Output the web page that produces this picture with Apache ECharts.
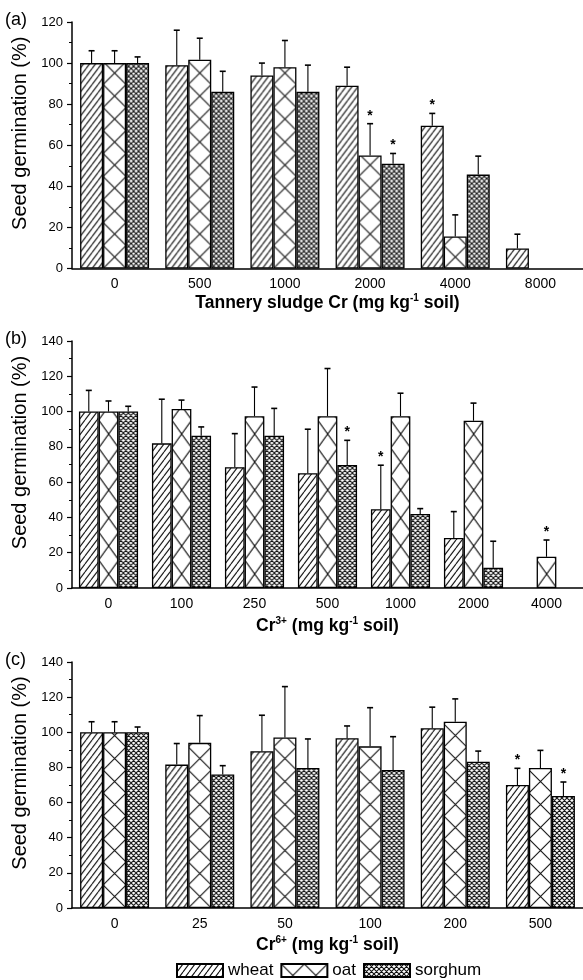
<!DOCTYPE html>
<html>
<head>
<meta charset="utf-8">
<script src="https://cdn.jsdelivr.net/npm/echarts@6/dist/echarts.min.js"></script>
<style>html,body{margin:0;padding:0;background:#fff}#c{width:583px;height:980px}</style>
</head>
<body>
<div id="c"></div>
<script>
// ---------- DATA ----------
const catsA = ['0', '500', '1000', '2000', '4000', '8000'];
const wheatA = [100, 99, 94, 89, 69.5, 9.7];
const oatA = [100, 101.6, 98, 55, 15.6, null];
const sorghumA = [100, 86, 86, 51, 45.7, null];
const wheatErrA = [6, 17, 6, 9, 6, 7];
const oatErrA = [6, 10.5, 13, 15.5, 10.5, null];
const sorghumErrA = [3, 10, 13, 5, 9, null];
const starsA = [[3, 1], [3, 2], [4, 0]]; // [category index, species index]

const catsB = ['0', '100', '250', '500', '1000', '2000', '4000'];
const wheatB = [100, 82, 68.5, 65, 44.6, 28.3, null];
const oatB = [100, 101.5, 97.4, 97.4, 97.4, 94.8, 17.7];
const sorghumB = [100, 86.3, 86.3, 69.7, 42, 11.5, null];
const wheatErrB = [12, 25, 19, 25, 25, 15, null];
const oatErrB = [6, 5, 16.5, 27, 13, 10, 9.5];
const sorghumErrB = [3, 5, 15.5, 14, 3, 15, null];
const starsB = [[3, 2], [4, 0], [6, 1]];

const catsC = ['0', '25', '50', '100', '200', '500'];
const wheatC = [100, 81.6, 89.2, 96.6, 102.3, 70];
const oatC = [100, 94, 97, 92, 106, 79.7];
const sorghumC = [100, 76, 79.7, 78.5, 83.3, 63.7];
const wheatErrC = [6, 12, 20.5, 7, 12, 9.5];
const oatErrC = [6, 15.5, 29, 22, 13, 10];
const sorghumErrC = [3, 5, 16.5, 19, 6, 8];
const starsC = [[5, 0], [5, 2]];

const speciesNames = ['wheat', 'oat', 'sorghum'];
const yMaxes = [120, 140, 140];
const panelLabels = ['(a)', '(b)', '(c)'];

// ---------- STYLE ----------
const FONT = '"Liberation Sans", Arial, sans-serif';
const GAP = 0.19;

function makeTile(w, h, kind) {
  const c = document.createElement('canvas');
  c.width = w; c.height = h;
  const ctx = c.getContext('2d');
  ctx.fillStyle = '#fff';
  ctx.fillRect(0, 0, w, h);
  ctx.strokeStyle = '#111';
  ctx.lineWidth = 1.1;
  ctx.beginPath();
  for (let k = -1; k <= 1; k++) {
    ctx.moveTo(k * w, h); ctx.lineTo(k * w + w, 0);
    if (kind === 'x') { ctx.moveTo(k * w, 0); ctx.lineTo(k * w + w, h); }
  }
  ctx.stroke();
  return c;
}
const tiles = [
  [makeTile(6, 8, '/'), makeTile(23, 23, 'x'), makeTile(5, 5, 'x')],
  [makeTile(6, 8, '/'), makeTile(20, 28, 'x'), makeTile(5, 5, 'x')],
  [makeTile(6, 8, '/'), makeTile(23, 23, 'x'), makeTile(5, 5, 'x')]
];
function pat(p, s, x, y) {
  return { image: tiles[p][s], repeat: 'repeat', x: x || 0, y: y || 0 };
}

const panels = [
  { cats: catsA, vals: [wheatA, oatA, sorghumA], errs: [wheatErrA, oatErrA, sorghumErrA], stars: starsA,
    title: '{t|Tannery sludge Cr (mg kg}{s|-1}{t| soil)}', top: 22, height: 246.5, gap: 25 },
  { cats: catsB, vals: [wheatB, oatB, sorghumB], errs: [wheatErrB, oatErrB, sorghumErrB], stars: starsB,
    title: '{t|Cr}{s|3+}{t| (mg kg}{s|-1}{t| soil)}', top: 341, height: 247, gap: 28 },
  { cats: catsC, vals: [wheatC, oatC, sorghumC], errs: [wheatErrC, oatErrC, sorghumErrC], stars: starsC,
    title: '{t|Cr}{s|6+}{t| (mg kg}{s|-1}{t| soil)}', top: 662, height: 246, gap: 27 }
];

const grids = [], xAxes = [], yAxes = [], series = [], graphics = [];
panels.forEach((P, p) => {
  grids.push({ left: 72, right: 0, top: P.top, height: P.height, containLabel: false });
  xAxes.push({
    type: 'category', gridIndex: p, data: P.cats, position: 'bottom',
    axisLine: { lineStyle: { color: '#000', width: 1.5 } },
    axisTick: { alignWithLabel: true, length: 4, lineStyle: { color: '#000', width: 1.2 } },
    axisLabel: { color: '#000', fontSize: 14, fontFamily: FONT, margin: 9 },
    name: P.title, nameLocation: 'middle', nameGap: P.gap,
    nameTextStyle: {
      rich: {
        t: { fontSize: 17.5, fontWeight: 'bold', fontFamily: FONT, color: '#000', lineHeight: 20 },
        s: { fontSize: 10, fontWeight: 'bold', fontFamily: FONT, color: '#000', lineHeight: 10, verticalAlign: 'top' }
      }
    }
  });
  xAxes.push({
    type: 'category', gridIndex: p, data: P.cats, position: 'bottom',
    axisLine: { show: false }, axisLabel: { show: false },
    axisTick: { length: 2, lineStyle: { color: '#000', width: 1 } }
  });
  yAxes.push({
    type: 'value', gridIndex: p, min: 0, max: yMaxes[p], interval: 20,
    axisLine: { show: true, lineStyle: { color: '#000', width: 1.5 } },
    axisTick: { show: true, length: 5, lineStyle: { color: '#000', width: 1.2 } },
    minorTick: { show: true, splitNumber: 2, length: 3, lineStyle: { color: '#000', width: 1 } },
    splitLine: { show: false },
    axisLabel: { color: '#000', fontSize: 13, fontFamily: FONT, margin: 9 },
    name: 'Seed germination (%)', nameLocation: 'middle', nameGap: 34, nameRotate: 90,
    nameTextStyle: { fontSize: 20, fontFamily: FONT, color: '#000', padding: [0, 0, 0, 24] }
  });
  P.vals.forEach((vals, s) => {
    series.push({
      type: 'bar', name: speciesNames[s], xAxisIndex: p * 2, yAxisIndex: p,
      data: vals.map(v => (v == null ? '-' : v)),
      barGap: '0%', barCategoryGap: (GAP * 100) + '%',
      itemStyle: { color: pat(p, s), borderColor: '#000', borderWidth: 1.3 },
      emphasis: { disabled: true }, silent: true
    });
  });
  // error bars + stars
  const errData = [];
  P.vals.forEach((vals, s) => {
    vals.forEach((v, j) => {
      if (v == null || P.errs[s][j] == null) return;
      const star = P.stars.some(st => st[0] === j && st[1] === s) ? 1 : 0;
      errData.push([j, s, v, v + P.errs[s][j], star]);
    });
  });
  series.push({
    type: 'custom', xAxisIndex: p * 2, yAxisIndex: p, silent: true, z: 5,
    data: errData,
    renderItem: function (params, api) {
      const j = api.value(0), s = api.value(1), v = api.value(2), top = api.value(3), star = api.value(4);
      const band = api.size([1, 0])[0];
      const bw = band * (1 - GAP) / 3;
      const base = api.coord([j, v]);
      const tp = api.coord([j, top]);
      const x = base[0] + (s - 1) * bw;
      const cap = 3;
      const children = [
        { type: 'line', shape: { x1: x, y1: base[1], x2: x, y2: tp[1] }, style: { stroke: '#000', lineWidth: 1.1 } },
        { type: 'line', shape: { x1: x - cap, y1: tp[1], x2: x + cap, y2: tp[1] }, style: { stroke: '#000', lineWidth: 1.6 } }
      ];
      if (star) {
        children.push({ type: 'text', x: x, y: tp[1] - 1,
          style: { text: '*', fill: '#000', font: 'bold 14px ' + FONT, textAlign: 'center', textVerticalAlign: 'bottom' } });
      }
      return { type: 'group', children: children };
    }
  });
  graphics.push({ type: 'text', left: 5, top: P.top - 11,
    style: { text: panelLabels[p], font: '18px ' + FONT, fill: '#000' } });
});

const chart = echarts.init(document.getElementById('c'), null, { renderer: 'canvas' });
const option = {
  animation: false,
  backgroundColor: '#fff',
  grid: grids, xAxis: xAxes, yAxis: yAxes, series: series, graphic: graphics,
  legend: {
    data: speciesNames, left: 171, top: 957, icon: 'rect', itemWidth: 46, itemHeight: 13, itemGap: 7,
    textStyle: { fontSize: 17, fontFamily: FONT, color: '#000' }, selectedMode: false
  }
};
chart.setOption(option);

// align hatch patterns to each bar's own lower-left corner (from library layout)
series.forEach((se, i) => {
  if (se.type !== 'bar') return;
  const p = Math.floor(i / 4), s = i % 4;
  const data = chart.getModel().getSeriesByIndex(i).getData();
  se.data = se.data.map((v, j) => {
    if (v === '-') return v;
    const lay = data.getItemLayout(j);
    return { value: v, itemStyle: { color: pat(p, s, lay.x, lay.y) } };
  });
});
chart.setOption({ series: series });
</script>
</body>
</html>
